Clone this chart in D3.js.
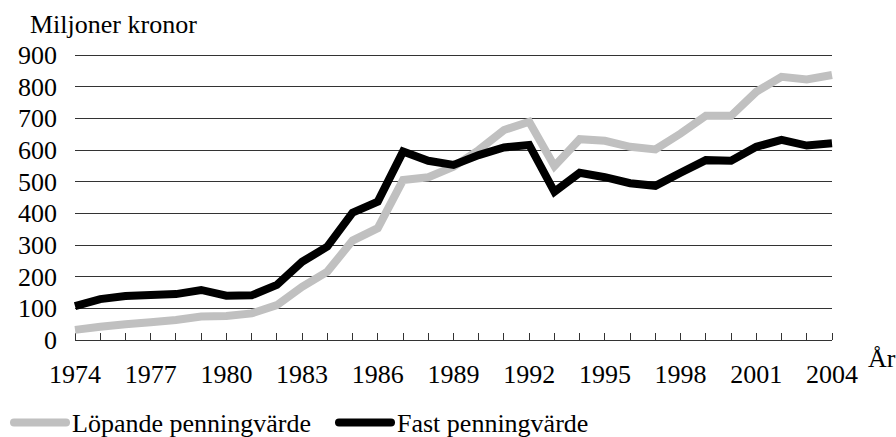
<!DOCTYPE html>
<html><head><meta charset="utf-8">
<script src="https://cdn.jsdelivr.net/npm/d3@7"></script>
<style>
html,body{margin:0;padding:0;background:#fff;}
</style></head>
<body><svg id="c" width="896" height="437"></svg>
<script>
const years = d3.range(1974, 2005);
const lopande = [32,42,50,56,63,74,76,84,110,168,216,314,353,505,514,547,600,663,689,549,634,629,610,602,652,708,708,784,831,823,837];
const fast = [107,129,139,142,145,158,140,141,174,247,295,402,437,595,566,553,584,608,616,468,528,514,495,487,528,568,566,610,632,614,621];
const yTicks = [0,100,200,300,400,500,600,700,800,900];
const xLabelYears = d3.range(1974, 2005, 3);
const seriesNames = ["Löpande penningvärde", "Fast penningvärde"];
const colors = ["#c0c0c0", "#000000"];
const FONT = "Liberation Serif";
const FS = 26;

const svg = d3.select("#c");
const x = d3.scaleLinear().domain([1974, 2004]).range([75, 832]);
const y = d3.scaleLinear().domain([0, 900]).range([340, 55]);

svg.append("g").selectAll("line").data(yTicks.filter(d => d > 0)).join("line")
  .attr("x1", x(1974)).attr("x2", x(2004))
  .attr("y1", d => y(d)).attr("y2", d => y(d))
  .attr("stroke", "#333").attr("stroke-width", 1).attr("shape-rendering", "crispEdges");

svg.append("g").selectAll("text").data(yTicks).join("text")
  .attr("x", 57).attr("y", d => y(d) + 9)
  .attr("text-anchor", "end").attr("font-family", FONT).attr("font-size", FS)
  .text(d => d);

svg.append("line").attr("x1", x(1974)).attr("x2", x(2004)).attr("y1", 340).attr("y2", 340)
  .attr("stroke", "#333").attr("stroke-width", 1).attr("shape-rendering", "crispEdges");
svg.append("g").selectAll("line").data(years).join("line")
  .attr("x1", d => x(d)).attr("x2", d => x(d))
  .attr("y1", 333).attr("y2", 340)
  .attr("stroke", "#333").attr("stroke-width", 1).attr("shape-rendering", "crispEdges");

svg.append("g").selectAll("text").data(xLabelYears).join("text")
  .attr("x", d => x(d)).attr("y", 383)
  .attr("text-anchor", "middle").attr("font-family", FONT).attr("font-size", FS)
  .text(d => d);

const line = d3.line().x((d, i) => x(years[i])).y(d => y(d));
[lopande, fast].forEach((s, k) => {
  svg.append("path").datum(s).attr("d", line)
    .attr("fill", "none").attr("stroke", colors[k]).attr("stroke-width", 8)
    .attr("stroke-linejoin", "miter").attr("stroke-miterlimit", 4).attr("stroke-linecap", "butt");
});

svg.append("text").attr("x", 30).attr("y", 33).attr("font-family", FONT).attr("font-size", FS).text("Miljoner kronor");
svg.append("text").attr("x", 868).attr("y", 367).attr("font-family", FONT).attr("font-size", FS).text("År");

const legendPos = [{lx: 14, tx: 72}, {lx: 339, tx: 397}];
seriesNames.forEach((n, k) => {
  const p = legendPos[k];
  svg.append("line").attr("x1", p.lx).attr("x2", p.lx + 52).attr("y1", 422.5).attr("y2", 422.5)
    .attr("stroke", colors[k]).attr("stroke-width", 8).attr("stroke-linecap", "round");
  svg.append("text").attr("x", p.tx).attr("y", 432).attr("font-family", FONT).attr("font-size", FS).text(n);
});
</script></body></html>
